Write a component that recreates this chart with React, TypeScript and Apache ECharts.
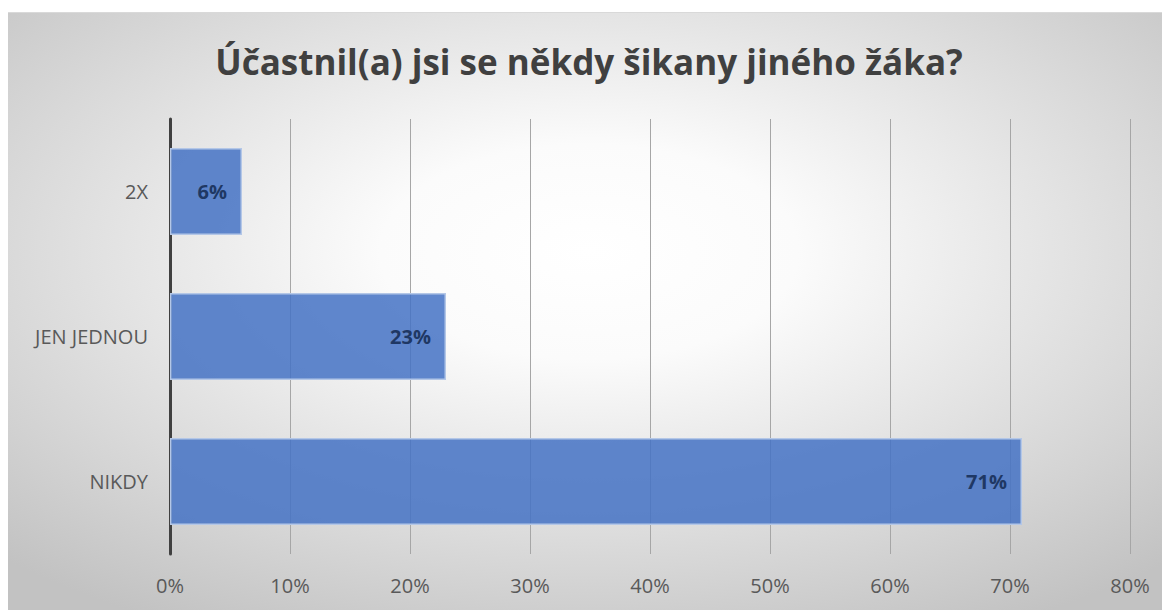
import React, { useEffect, useRef } from "react";
import * as echarts from "echarts";

const categories = ["NIKDY", "JEN JEDNOU", "2X"];
const values = [71, 23, 6];
const xTicks = [0, 10, 20, 30, 40, 50, 60, 70, 80];
const title = "Účastnil(a) jsi se někdy šikany jiného žáka?";

export default function App() {
  const ref = useRef<HTMLDivElement>(null);
  useEffect(() => {
    const chart = echarts.init(ref.current!, null, { renderer: "svg" });
    chart.setOption({
      animation: false,
      backgroundColor: {
        type: "radial",
        x: 0.5,
        y: 0.4,
        r: 0.72,
        colorStops: [
          { offset: 0, color: "#ffffff" },
          { offset: 0.25, color: "#fbfbfb" },
          { offset: 1, color: "#c2c2c2" },
        ],
      },
      title: {
        text: title,
        left: "center",
        top: 26,
        textStyle: {
          fontFamily: "Open Sans",
          fontWeight: "bold",
          fontSize: 35,
          color: "#404040",
        },
      },
      grid: { left: 162, right: 40, top: 106, bottom: 56, containLabel: false },
      xAxis: {
        type: "value",
        min: xTicks[0],
        max: xTicks[xTicks.length - 1],
        interval: 10,
        axisLine: { show: false },
        axisTick: { show: false },
        splitLine: { show: true, lineStyle: { color: "#a6a6a6", width: 1 } },
        axisLabel: {
          formatter: "{value}%",
          color: "#595959",
          fontSize: 20,
          fontFamily: "Open Sans",
          margin: 21,
        },
      },
      yAxis: {
        type: "category",
        data: categories,
        axisLine: { show: true, lineStyle: { color: "#404040", width: 3 } },
        axisTick: { show: false },
        axisLabel: {
          color: "#595959",
          fontSize: 20,
          fontFamily: "Open Sans",
          margin: 22,
        },
      },
      series: [
        {
          type: "bar",
          data: values,
          barCategoryGap: "40%",
          itemStyle: {
            color: "rgba(68,114,196,0.85)",
            borderColor: "#b4c7e7",
            borderWidth: 1.5,
          },
          label: {
            show: true,
            position: "insideRight",
            distance: 15,
            formatter: "{c}%",
            color: "#1f3864",
            fontWeight: "bold",
            fontSize: 20,
            fontFamily: "Open Sans",
          },
        },
      ],
    });
    return () => chart.dispose();
  }, []);
  return (
    <div
      ref={ref}
      style={{
        width: 1162,
        height: 598,
        marginTop: 4,
        boxSizing: "border-box",
        borderTop: "1px solid #d9d9d9",
      }}
    />
  );
}
